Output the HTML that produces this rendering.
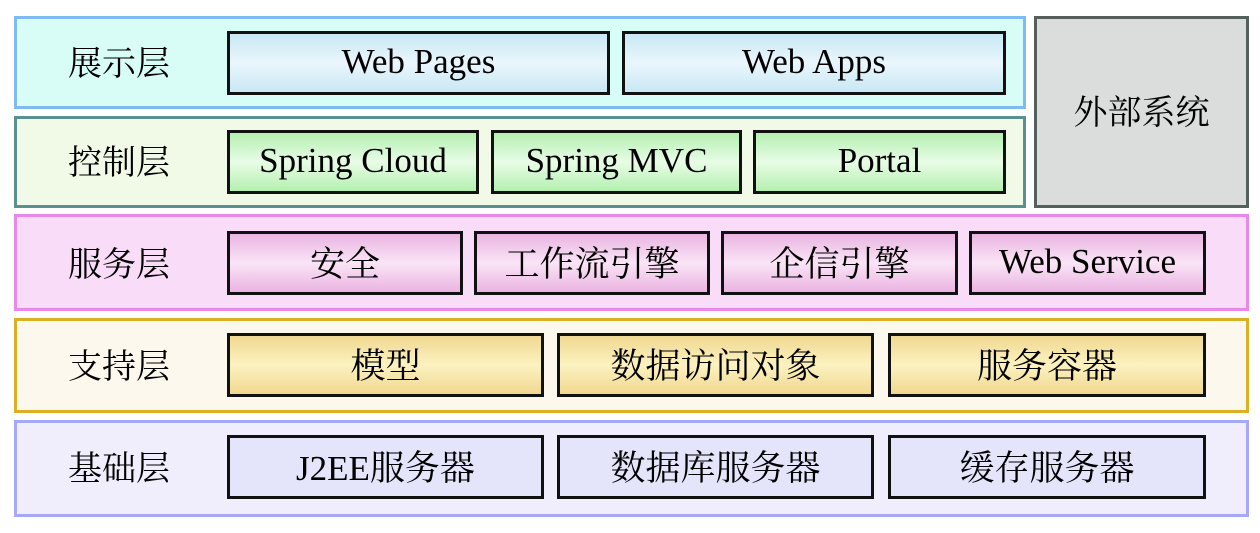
<!DOCTYPE html>
<html><head><meta charset="utf-8"><style>
body{margin:0;width:1260px;height:533px;background:#fff;position:relative;overflow:hidden;font-family:"Liberation Serif","Noto Serif CJK SC",serif;color:#000}
div{position:absolute;box-sizing:border-box}
.L{border:3px solid}
.lab{font-size:34px;left:14px;width:210px;text-align:center;border:none;line-height:40px}
.b{border:3px solid #111;font-size:35px;display:flex;align-items:center;justify-content:center;height:64px;padding-bottom:2px}
.c1{background:linear-gradient(#c8e8f4,#eaf6fc 50%,#c8e8f4)}
.c2{background:linear-gradient(#b4f0b0,#e8fce6 50%,#b4f0b0)}
.c3{background:linear-gradient(#eab4e2,#fae4f6 50%,#eab4e2)}
.c4{background:linear-gradient(#f0d890,#fcf2c0 50%,#f0d890)}
.c5{background:#e4e4fa}
</style></head><body>
<div class="L" style="left:14px;top:16px;width:1012px;height:93px;border-color:#7ebbf0;background:#d8fcf6"></div>
<div class="L" style="left:14px;top:116px;width:1012px;height:92px;border-color:#5a9090;background:#f0fae6"></div>
<div class="L" style="left:1034px;top:16px;width:215px;height:192px;border-color:#555f5c;background:#dbdddd;display:flex;align-items:center;justify-content:center;font-size:34px;padding-bottom:6px">外部系统</div>
<div class="L" style="left:14px;top:214px;width:1235px;height:97px;border-color:#ea88ea;background:#f8dcf8"></div>
<div class="L" style="left:14px;top:318px;width:1235px;height:95px;border-color:#dcb020;background:#fcf8ee"></div>
<div class="L" style="left:14px;top:420px;width:1235px;height:97px;border-color:#a8a8f8;background:#f0eefc"></div>

<div class="lab" style="top:45px">展示层</div>
<div class="lab" style="top:144px">控制层</div>
<div class="lab" style="top:246px">服务层</div>
<div class="lab" style="top:348px">支持层</div>
<div class="lab" style="top:450px">基础层</div>

<div class="b c1" style="left:227px;top:31px;width:383px">Web Pages</div>
<div class="b c1" style="left:622px;top:31px;width:384px">Web Apps</div>

<div class="b c2" style="left:227px;top:130px;width:252px">Spring Cloud</div>
<div class="b c2" style="left:491px;top:130px;width:251px">Spring MVC</div>
<div class="b c2" style="left:753px;top:130px;width:253px">Portal</div>

<div class="b c3" style="left:227px;top:231px;width:236px">安全</div>
<div class="b c3" style="left:474px;top:231px;width:236px">工作流引擎</div>
<div class="b c3" style="left:721px;top:231px;width:237px">企信引擎</div>
<div class="b c3" style="left:969px;top:231px;width:237px">Web Service</div>

<div class="b c4" style="left:227px;top:333px;width:317px">模型</div>
<div class="b c4" style="left:557px;top:333px;width:317px">数据访问对象</div>
<div class="b c4" style="left:888px;top:333px;width:318px">服务容器</div>

<div class="b c5" style="left:227px;top:435px;width:317px">J2EE服务器</div>
<div class="b c5" style="left:557px;top:435px;width:317px">数据库服务器</div>
<div class="b c5" style="left:888px;top:435px;width:318px">缓存服务器</div>
</body></html>
